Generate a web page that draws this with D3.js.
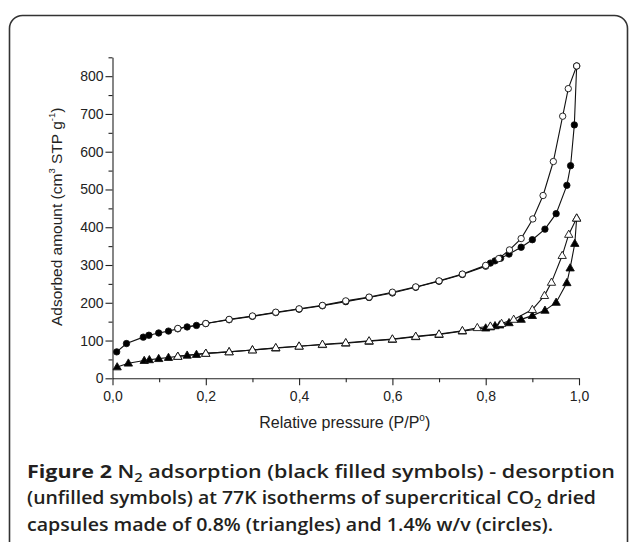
<!DOCTYPE html>
<html>
<head>
<meta charset="utf-8">
<script src="https://cdn.jsdelivr.net/npm/d3@7"></script>
<style>
  body { margin: 0; background: #fff; }
  svg { display: block; }
</style>
</head>
<body>
<svg id="chart" width="629" height="542"></svg>
<script>
// relative pressure / adsorbed amount
var circAdsP = [0.009,0.03,0.066,0.078,0.099,0.12,0.14,0.16,0.18,0.2,0.25,0.3,0.35,0.4,0.45,0.5,0.55,0.6,0.65,0.7,0.75,0.8,0.81,0.82,0.832,0.85,0.876,0.9,0.927,0.951,0.974,0.982,0.99,0.995]
var circAdsV = [70,92,109,114,120,125,131,136,140,145,155,164,174,183,192,203,214,226,241,257,275,297,305,311,318,329,347,367,395,436,511,563,671,827]
var circDesP = [0.995,0.977,0.965,0.945,0.923,0.901,0.876,0.851,0.828,0.8,0.75,0.7,0.65,0.6,0.55,0.5,0.45,0.4,0.35,0.3,0.25,0.2,0.14]
var circDesV = [827,767,694,574,484,422,370,340,317,299,276,258,242,228,215,205,193,184,175,165,156,145,132]

var triAdsP = [0.01,0.034,0.068,0.079,0.099,0.12,0.14,0.16,0.18,0.2,0.25,0.3,0.35,0.4,0.45,0.5,0.55,0.6,0.65,0.7,0.75,0.8,0.81,0.82,0.83,0.85,0.876,0.9,0.927,0.951,0.974,0.981,0.991,0.995]
var triAdsV = [30,40,47,49,52,55,58,61,63,66,70,75,80,85,89,93,98,103,110,116,125,133,136,139,141,147,156,166,180,201,253,292,357,424]
var triDesP = [0.995,0.978,0.964,0.941,0.926,0.9,0.86,0.834,0.81,0.782,0.75,0.7,0.65,0.6,0.55,0.5,0.45,0.4,0.35,0.3,0.25,0.2,0.14]
var triDesV = [424,381,325,254,219,182,156,145,138,134,126,117,111,104,99,94,90,85,81,75,70,66,58]

var xTicks = [0, 0.2, 0.4, 0.6, 0.8, 1.0]
var xMinor = [0.1, 0.3, 0.5, 0.7, 0.9]
var yTicks = [0, 100, 200, 300, 400, 500, 600, 700, 800]
var yMinor = [50, 150, 250, 350, 450, 550, 650, 750, 850]

function zipPts(p, v) {
  return p.map(function(d, i) { return [d, v[i]]; })
}

var svg = d3.select("#chart")

// frame around figure + caption
svg.append("rect")
  .attr("x", 9.5).attr("y", 15.5)
  .attr("width", 618).attr("height", 600)
  .attr("rx", 13).attr("ry", 13)
  .style("fill", "none")
  .style("stroke", "#333")
  .style("stroke-width", 1.6)

var margin = {left: 112.5, top: 57.3},
    width = 466.5,
    height = 321

var x = d3.scaleLinear().domain([0, 1]).range([0, width])
var y = d3.scaleLinear().domain([0, 850]).range([height, 0])

var g = svg.append("g")
  .attr("transform", "translate(" + margin.left + "," + margin.top + ")")

// x axis
var fmt = function(d) { return d3.format(".1f")(d).replace(".", ","); }
g.append("g")
  .attr("transform", "translate(0," + height + ")")
  .call(d3.axisBottom(x).tickValues(xMinor).tickSize(4).tickFormat(""))
  .call(function(a) { a.select(".domain").remove(); })
var xAxis = g.append("g")
  .attr("transform", "translate(0," + height + ")")
  .call(d3.axisBottom(x).tickValues(xTicks).tickSize(7).tickSizeOuter(0).tickFormat(fmt))

// y axis
g.append("g")
  .call(d3.axisLeft(y).tickValues(yMinor).tickSize(4).tickFormat(""))
  .call(function(a) { a.select(".domain").remove(); })
var yAxis = g.append("g")
  .call(d3.axisLeft(y).tickValues(yTicks).tickSize(7).tickSizeOuter(0))

g.selectAll(".domain, .tick line").style("stroke", "#222").style("stroke-width", 1.1)
xAxis.selectAll("text")
  .style("font-family", "Liberation Sans, Arial, sans-serif")
  .style("font-size", "14px")
  .style("fill", "#222")
  .attr("dy", "0.9em")
yAxis.selectAll("text")
  .style("font-family", "Liberation Sans, Arial, sans-serif")
  .style("font-size", "14px")
  .style("fill", "#222")
  .attr("x", -9)

// axis titles
var xt = svg.append("text")
  .attr("x", margin.left + width / 2 - 1)
  .attr("y", 428)
  .attr("text-anchor", "middle")
  .style("font-family", "Liberation Sans, Arial, sans-serif")
  .style("font-size", "16px")
  .style("fill", "#222")
xt.append("tspan").text("Relative pressure (P/P")
xt.append("tspan").attr("dy", -7).style("font-size", "10px").text("o")
xt.append("tspan").attr("dy", 7).text(")")

var yt = svg.append("text")
  .attr("transform", "translate(62," + (margin.top + height / 2 - 1) + ") rotate(-90)")
  .attr("text-anchor", "middle")
  .style("font-family", "Liberation Sans, Arial, sans-serif")
  .style("font-size", "15.5px")
  .style("fill", "#222")
yt.append("tspan").text("Adsorbed amount (cm")
yt.append("tspan").attr("dy", -7).style("font-size", "9.5px").text("3")
yt.append("tspan").attr("dy", 7).text(" STP g")
yt.append("tspan").attr("dy", -7).style("font-size", "9.5px").text("-1")
yt.append("tspan").attr("dy", 7).text(")")

// isotherm lines
var line = d3.line()
  .x(function(d) { return x(d[0]); })
  .y(function(d) { return y(d[1]); })

var series = [
  {pts: zipPts(triAdsP, triAdsV), shape: d3.symbolTriangle, fill: "#000"},
  {pts: zipPts(triDesP, triDesV), shape: d3.symbolTriangle, fill: "#fff"},
  {pts: zipPts(circAdsP, circAdsV), shape: d3.symbolCircle, fill: "#000"},
  {pts: zipPts(circDesP, circDesV), shape: d3.symbolCircle, fill: "#fff"}
]

series.forEach(function(s) {
  g.append("path")
    .datum(s.pts)
    .attr("d", line)
    .style("fill", "none")
    .style("stroke", "#111")
    .style("stroke-width", 1.1)
})

series.forEach(function(s) {
  var size = s.shape === d3.symbolCircle ? 32 : 30
  g.selectAll(null)
    .data(s.pts)
    .enter()
    .append("path")
      .attr("d", d3.symbol().type(s.shape).size(size))
      .attr("transform", function(d) {
        return "translate(" + x(d[0]) + "," + (y(d[1]) + (s.shape === d3.symbolTriangle ? 0.5 : 0)) + ")";
      })
      .style("fill", s.fill)
      .style("stroke", "#111")
      .style("stroke-width", 0.9)
})

// caption
var capFont = "'Open Sans', 'Noto Sans', sans-serif"
var cap1 = svg.append("text")
  .attr("x", 27).attr("y", 478)
  .attr("textLength", 588).attr("lengthAdjust", "spacingAndGlyphs")
  .style("font-family", capFont).style("font-size", "17.5px").style("font-weight", 600).style("fill", "#231f20")
cap1.append("tspan").style("font-weight", "bold").text("Figure 2")
cap1.append("tspan").text(" N")
cap1.append("tspan").attr("dy", 4).style("font-size", "12px").text("2")
cap1.append("tspan").attr("dy", -4).text(" adsorption (black filled symbols) - desorption")

var cap2 = svg.append("text")
  .attr("x", 27).attr("y", 504)
  .attr("textLength", 569).attr("lengthAdjust", "spacingAndGlyphs")
  .style("font-family", capFont).style("font-size", "17.5px").style("font-weight", 600).style("fill", "#231f20")
cap2.append("tspan").text("(unfilled symbols) at 77K isotherms of supercritical CO")
cap2.append("tspan").attr("dy", 4).style("font-size", "12px").text("2")
cap2.append("tspan").attr("dy", -4).text(" dried")

svg.append("text")
  .attr("x", 27).attr("y", 531)
  .attr("textLength", 526).attr("lengthAdjust", "spacingAndGlyphs")
  .style("font-family", capFont).style("font-size", "17.5px").style("font-weight", 600).style("fill", "#231f20")
  .text("capsules made of 0.8% (triangles) and 1.4% w/v (circles).")
</script>
</body>
</html>
